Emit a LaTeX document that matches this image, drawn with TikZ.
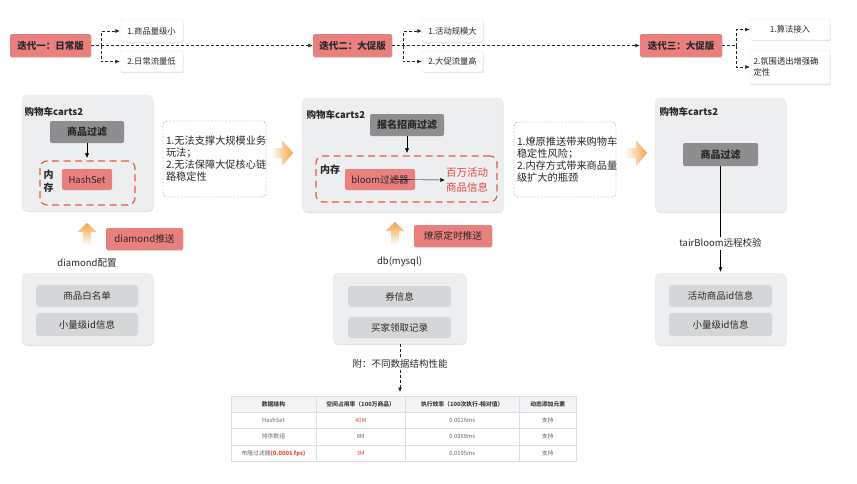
\documentclass[tikz,border=0pt]{standalone}
\usepackage{fontspec}
\setmainfont{Noto Sans CJK SC}
\usetikzlibrary{arrows.meta,shadows,matrix}
\definecolor{salm}{RGB}{233,128,126}
\definecolor{dgray}{RGB}{142,142,144}
\definecolor{panelc}{RGB}{237,238,240}
\definecolor{igray}{RGB}{213,214,216}
\definecolor{rdash}{RGB}{233,92,62}
\definecolor{rtext}{RGB}{230,72,58}
\definecolor{orng}{RGB}{245,162,72}
\definecolor{txt}{RGB}{40,40,40}
\definecolor{hdr}{RGB}{243,244,246}
\definecolor{tline}{RGB}{222,223,226}
\tikzset{
 base/.style={inner sep=1pt, align=center, text=txt},
 shad/.style={drop shadow={shadow xshift=0.6pt,shadow yshift=-1.2pt,opacity=0.22}},
 iter/.style={base, shad, fill=salm, rounded corners=2pt, font=\bfseries\fontsize{9.5}{11}\selectfont, minimum height=23pt},
 sub/.style={base, shad, fill=white, draw=black!10, rounded corners=2pt, font=\fontsize{8.3}{11}\selectfont, minimum width=63pt, minimum height=22pt},
 panel/.style={shad, fill=panelc, draw=black!8, rounded corners=5pt, inner sep=0pt},
 darkbox/.style={base, fill=dgray, rounded corners=2pt, font=\bfseries\fontsize{10}{12}\selectfont, minimum width=74pt, minimum height=22pt},
 salbox/.style={base, fill=salm, rounded corners=2pt, font=\fontsize{9.5}{11}\selectfont, minimum height=21pt},
 pushbox/.style={base, shad, fill=salm, rounded corners=2pt, font=\fontsize{9.7}{11}\selectfont, minimum height=22pt},
 memdash/.style={draw=rdash, line width=1.2pt, dash pattern=on 7pt off 4.5pt, rounded corners=7pt, inner sep=0pt},
 note/.style={draw=black!45, dash pattern=on 2pt off 1.5pt, rounded corners=4pt, align=left, font=\fontsize{10.2}{12}\selectfont, text=txt, inner sep=3pt},
 ibox/.style={base, fill=igray, rounded corners=3pt, font=\fontsize{9.5}{11}\selectfont, minimum width=102pt, minimum height=22pt},
 lbl/.style={base, font=\fontsize{9.5}{11}\selectfont},
 ttl/.style={base, anchor=west, font=\bfseries\fontsize{9.5}{11}\selectfont},
 dline/.style={dash pattern=on 3pt off 2pt, black!85, line width=0.6pt},
 tip/.style={-{Latex[length=4.5pt,width=4pt]}},
}
\begin{document}
\begin{tikzpicture}[x=1pt,y=-1pt]
\useasboundingbox[fill=white] (0,0) rectangle (857,483);
% ---------- top row ----------
\node[iter, minimum width=81pt] (it1) at (50.5,45.5) {迭代一：日常版};
\node[sub] (s11) at (151.5,31) {1.商品量级小};
\node[sub, minimum height=21pt] (s12) at (151.5,61.5) {2.日常流量低};
\node[iter, minimum width=79pt] (it2) at (352.5,45.5) {迭代二：大促版};
\node[sub, minimum width=61pt] (s21) at (452.5,31) {1.活动规模大};
\node[sub, minimum width=61pt, minimum height=21pt] (s22) at (452.5,61.5) {2.大促流量高};
\node[iter, minimum width=82pt] (it3) at (681,45.5) {迭代三：大促版};
\node[sub, minimum width=80pt, minimum height=21pt] (s31) at (790,29.5) {1.算法接入};
\node[sub, minimum width=80pt, minimum height=34pt, text width=73pt, align=left] (s32) at (790,67) {2.氛围透出增强确\\定性};
\coordinate (b1) at (101,45.5);
\coordinate (b2) at (403,45.5);
\coordinate (b3) at (736,45.5);
\draw[dline,tip] (it1.east) -- (it2.west);
\draw[dline,tip] (it2.east) -- (it3.west);
\draw[dline] (it3.east) -- (b3);
\foreach \b/\u/\l in {b1/s11/s12, b2/s21/s22, b3/s31/s32}{
  \draw[dline,tip] (\b) |- (\u.west);
  \draw[dline,tip] (\b) |- (\l.west);
}
% ---------- left section ----------
\node[panel, minimum width=131pt, minimum height=116pt] (p1) at (87.5,153) {};
\node[ttl] (t1) at (23.5,112) {购物车carts2};
\node[darkbox] (f1) at (87,132) {商品过滤};
\node[memdash, minimum width=95pt, minimum height=44pt] (m1) at (87.5,183) {};
\node[base, font=\bfseries\fontsize{10}{13}\selectfont] (n1) at (48.5,181) {内\\存};
\node[salbox, minimum width=50pt] (hs) at (87,179.5) {HashSet};
\draw[tip, black] (f1.south) -- ([yshift=2.5pt]m1.north -| f1.south);
\node[note, text width=97pt, minimum height=76pt] (note1) at (214.5,159) {1.无法支撑大规模业务\\玩法；\\2.无法保障大促核心链\\路稳定性};
\shade[left color=white, right color=orng] (271,148) -- (282,148) -- (282,140) -- (293,153) -- (282,166) -- (282,158) -- (271,158) -- cycle;
\shade[top color=orng, bottom color=white] (87,223) -- (96.5,232) -- (91,232) -- (91,245) -- (83,245) -- (83,232) -- (77.5,232) -- cycle;
\node[pushbox, minimum width=77pt] (dp) at (144.5,239) {diamond推送};
\node[lbl] (dc) at (87,263) {diamond配置};
\node[panel, minimum width=131pt, minimum height=72pt] (q1) at (87.5,309) {};
\node[ibox] (w1) at (87,296) {商品白名单};
\node[ibox, minimum height=23pt] (w2) at (87,324.5) {小量级id信息};
% ---------- middle section ----------
\node[panel, minimum width=201pt, minimum height=114pt] (p2) at (402.5,155) {};
\node[ttl] (t2) at (305.5,115) {购物车carts2};
\node[darkbox] (f2) at (407,125) {报名招商过滤};
\node[memdash, minimum width=181pt, minimum height=46pt] (m2) at (406.5,179) {};
\node[base, anchor=west, font=\bfseries\fontsize{10}{12}\selectfont] (n2) at (319,170) {内存};
\node[salbox, minimum width=70pt] (bl) at (380,179.5) {bloom过滤器};
\node[base, text=rtext, font=\fontsize{10.5}{15}\selectfont] (mil) at (467,180) {百万活动\\商品信息};
\draw[tip, black] (f2.south) -- ([yshift=2.5pt]m2.north -| f2.south);
\draw[tip, black] ([xshift=10pt]bl.center) -- (mil.west);
\node[note, text width=96pt, minimum height=75pt] (note2) at (565,159.5) {1.燎原推送带来购物车\\稳定性风险；\\2.内存方式带来商品量\\级扩大的瓶颈};
\shade[left color=white, right color=orng] (625,148) -- (636,148) -- (636,140) -- (647,153) -- (636,166) -- (636,158) -- (625,158) -- cycle;
\shade[top color=orng, bottom color=white] (395,222) -- (404.5,231) -- (399,231) -- (399,245) -- (391,245) -- (391,231) -- (385.5,231) -- cycle;
\node[pushbox, minimum width=78pt] (ly) at (453,236) {燎原定时推送};
\node[lbl] (db) at (399.5,262) {db(mysql)};
\node[panel, minimum width=133pt, minimum height=71pt] (q2) at (399.5,308.5) {};
\node[ibox, minimum width=103pt, minimum height=21pt] (c1) at (399.5,296.5) {券信息};
\node[ibox, minimum width=103pt, minimum height=21pt] (c2) at (399.5,327.5) {买家领取记录};
\node[lbl] (fu) at (400,364) {附：不同数据结构性能};
% ---------- right section ----------
\node[panel, minimum width=131pt, minimum height=114pt] (p3) at (720.5,155) {};
\node[ttl] (t3) at (658.5,112) {购物车carts2};
\node[darkbox, minimum width=75pt, minimum height=23pt] (f3) at (720.5,154.5) {商品过滤};
\node[panel, minimum width=131pt, minimum height=72pt] (q3) at (720.5,309) {};
\node[ibox, minimum width=103pt] (r1) at (720.5,296) {活动商品id信息};
\node[ibox, minimum width=103pt, minimum height=23pt] (r2) at (720.5,324.5) {小量级id信息};
\draw[tip, black] (f3.south) -- node[lbl, fill=white, pos=0.73, inner sep=2pt] (tb) {tairBloom远程校验} ([yshift=1pt]q3.north);
% ---------- table ----------
\matrix (tbl) [matrix of nodes, anchor=north west, column sep=-0.4pt, row sep=-0.4pt,
  nodes={draw=tline, line width=0.4pt, fill=white, minimum height=16.25pt, inner sep=0pt, text=black!60, font=\fontsize{5.8}{7}\selectfont},
  column 1/.style={nodes={minimum width=85.5pt}},
  column 2/.style={nodes={minimum width=89pt}},
  column 3/.style={nodes={minimum width=114pt}},
  column 4/.style={nodes={minimum width=57pt}},
  row 1/.style={nodes={fill=hdr, text=black!75, font=\bfseries\fontsize{5.8}{7}\selectfont}}
  ] at (227,392) {
  数据结构 & 空间占用率（100万商品） & 执行效率（100次执行-相对值） & 动态添加元素 \\
  HashSet & \textcolor{rtext}{40M} & 0.0026ms & 支持 \\
  排序数组 & 8M & 0.0068ms & 支持 \\
  布隆过滤器\textcolor{rtext}{\bfseries(0.0001 fps)} & \textcolor{rtext}{3M} & 0.0195ms & 支持 \\
};
\draw[dline] (q2.south -| fu.north) -- (fu.north);
\draw[dline,tip] (fu.south) -- (fu.south |- tbl.north);
\end{tikzpicture}
\end{document}
